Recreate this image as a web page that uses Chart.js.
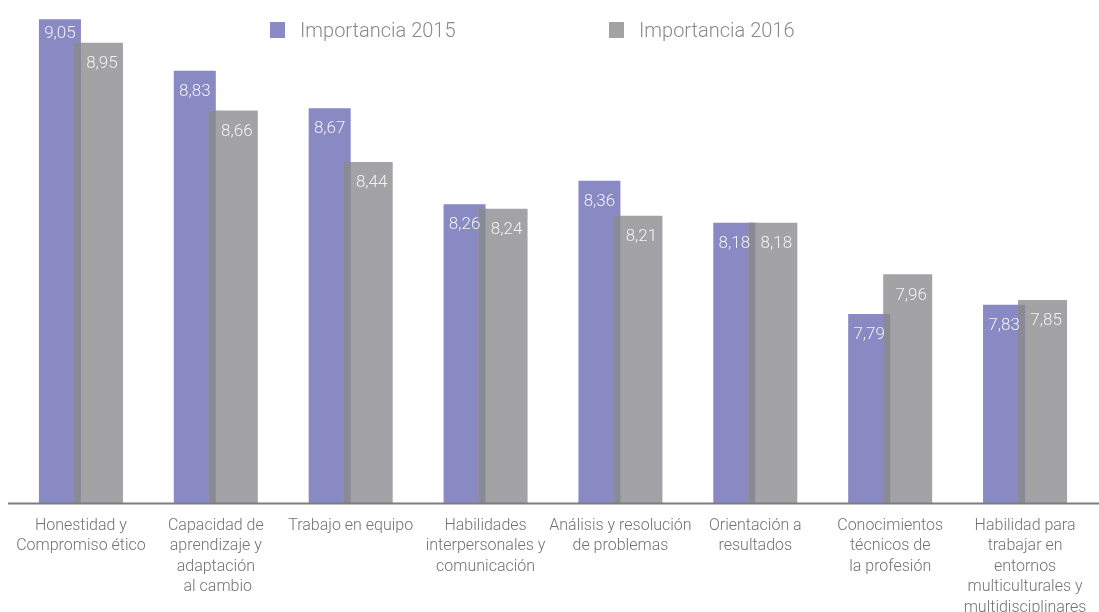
<!DOCTYPE html>
<html>
<head>
<meta charset="utf-8">
<script src="https://cdn.jsdelivr.net/npm/chart.js@4"></script>
<style>
  body { margin: 0; background: #fff; }
  #wrap { position: relative; width: 1099px; height: 612px; }
  #legend { position: absolute; left: 270px; top: 18px; display: flex; font-family: Roboto, "Liberation Sans", sans-serif; font-weight: 300; font-size: 20px; color: #8a8a8a; }
  #legend .item { display: flex; align-items: center; width: 339px; }
  #legend .box { width: 15px; height: 16px; margin-right: 15px; }
</style>
</head>
<body>
<div id="wrap">
  <canvas id="myChart" width="1099" height="612"></canvas>
  <div id="legend"></div>
</div>
<script>
const categories = [
    ['Honestidad y', 'Compromiso ético'],
    ['Capacidad de', 'aprendizaje y', 'adaptación', ' al cambio'],
    'Trabajo en equipo',
    ['Habilidades', 'interpersonales y', 'comunicación'],
    ['Análisis y resolución', 'de problemas'],
    ['Orientación a', 'resultados'],
    ['Conocimientos', 'técnicos de', 'la profesión'],
    ['Habilidad para', 'trabajar en', 'entornos', 'multiculturales y', 'multidisciplinares']
];
const seriesNames = ['Importancia 2015', 'Importancia 2016'];
const values2015 = [9.05, 8.83, 8.67, 8.26, 8.36, 8.18, 7.79, 7.83];
const values2016 = [8.95, 8.66, 8.44, 8.24, 8.21, 8.18, 7.96, 7.85];

const purple = '#8989c4';
const gray = '#a3a3a6';
const overlap = '#8a8a97';
const stripWidth = 7;

const fmt = v => v.toFixed(2).replace('.', ',');

// gray bar has a 7px strip reaching over the purple one, darker where they overlap
const barDecor = {
    id: 'barDecor',
    afterDatasetsDraw(chart) {
        const ctx = chart.ctx;
        const bottom = chart.chartArea.bottom;
        const m0 = chart.getDatasetMeta(0);
        const m1 = chart.getDatasetMeta(1);
        ctx.save();
        m1.data.forEach((g, i) => {
            const p = m0.data[i];
            const left = g.x - g.width / 2;
            ctx.fillStyle = gray;
            ctx.fillRect(left - stripWidth, g.y, stripWidth + 1, bottom - g.y);
            const top = Math.max(g.y, p.y);
            ctx.fillStyle = overlap;
            ctx.fillRect(left - stripWidth, top, stripWidth, bottom - top);
        });
        // value labels
        ctx.fillStyle = '#f2f2f2';
        ctx.font = '300 17px Roboto, "Liberation Sans", sans-serif';
        ctx.textAlign = 'center';
        ctx.textBaseline = 'middle';
        [m0, m1].forEach((meta, d) => {
            meta.data.forEach((el, i) => {
                const v = chart.data.datasets[d].data[i];
                const off = el.y < 25 ? 14 : 21;
                ctx.fillText(fmt(v), el.x, el.y + off);
            });
        });
        // baseline
        ctx.strokeStyle = '#7d7d80';
        ctx.lineWidth = 2;
        ctx.beginPath();
        ctx.moveTo(8, bottom);
        ctx.lineTo(chart.width, bottom);
        ctx.stroke();
        ctx.restore();
    }
};

const ctx = document.getElementById('myChart').getContext('2d');
const myChart = new Chart(ctx, {
    type: 'bar',
    data: {
        labels: categories,
        datasets: [{
            label: seriesNames[0],
            data: values2015,
            backgroundColor: purple
        }, {
            label: seriesNames[1],
            data: values2016,
            backgroundColor: gray
        }]
    },
    options: {
        responsive: false,
        animation: false,
        categoryPercentage: 0.623,
        barPercentage: 1,
        layout: { padding: { left: 13.5, right: 6.5, top: 10, bottom: 0 } },
        plugins: {
            legend: { display: false },
            tooltip: { enabled: false }
        },
        scales: {
            x: {
                grid: { display: false, drawTicks: false },
                border: { display: false },
                ticks: {
                    autoSkip: false,
                    maxRotation: 0,
                    padding: 12,
                    color: '#727272',
                    font: { family: 'Roboto, "Liberation Sans", sans-serif', weight: '300', size: 16, lineHeight: 1.28 }
                },
                afterFit(scale) { scale.height = 108.5; }
            },
            y: {
                display: false,
                min: 6.98,
                max: 9.09
            }
        }
    },
    plugins: [barDecor]
});

// html legend from the dataset labels
const legendEl = document.getElementById('legend');
myChart.data.datasets.forEach(ds => {
    const item = document.createElement('div');
    item.className = 'item';
    const box = document.createElement('span');
    box.className = 'box';
    box.style.background = ds.backgroundColor;
    const txt = document.createElement('span');
    txt.textContent = ds.label;
    item.appendChild(box);
    item.appendChild(txt);
    legendEl.appendChild(item);
});
</script>
</body>
</html>
